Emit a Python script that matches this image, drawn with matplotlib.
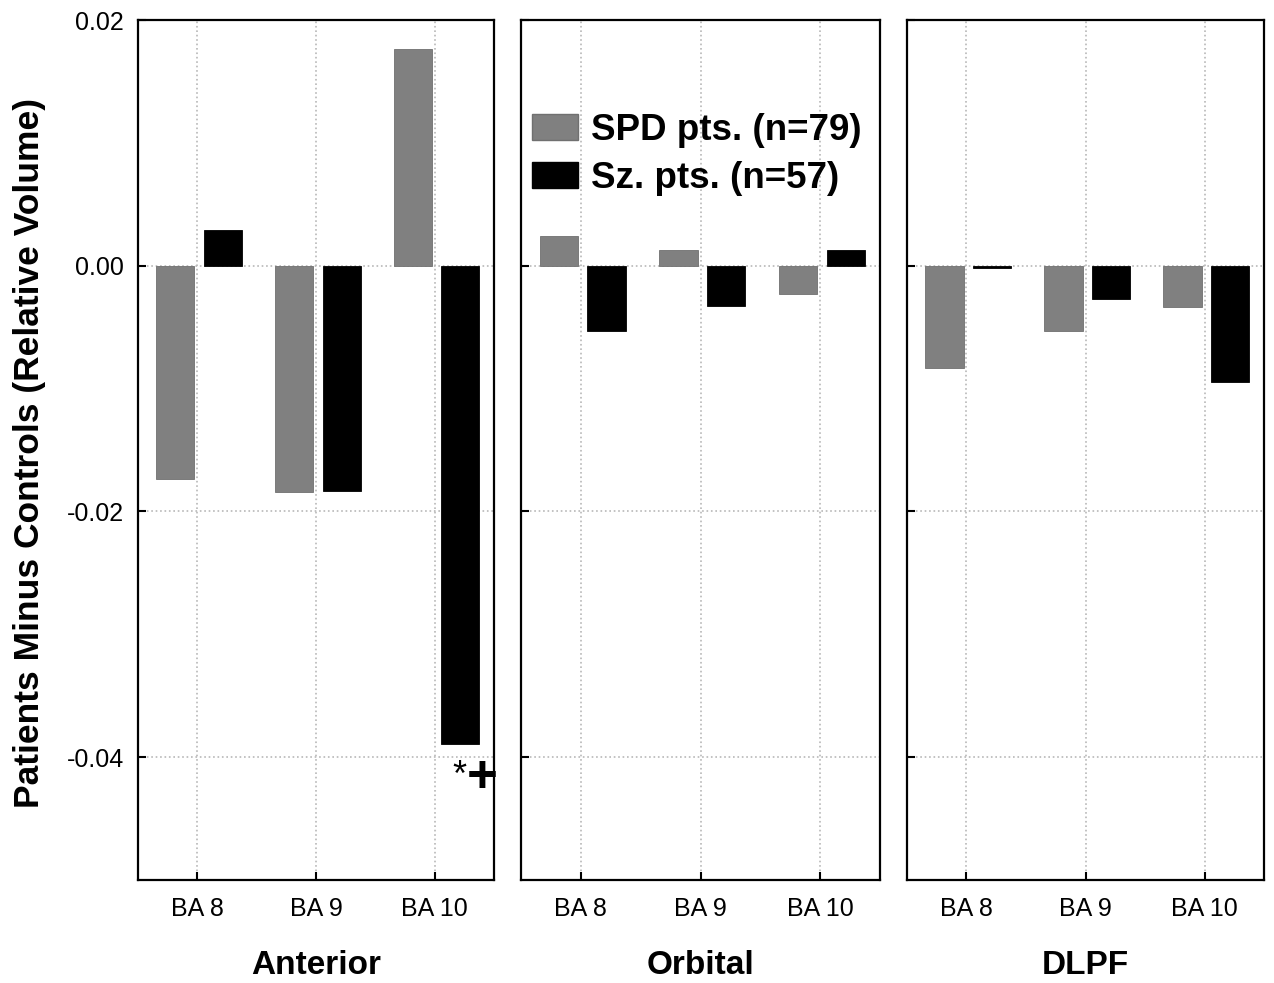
import matplotlib
matplotlib.use("Agg")
import matplotlib.pyplot as plt
from matplotlib.patches import Patch

plt.rcParams['font.family'] = ['Liberation Sans', 'DejaVu Sans']
plt.rcParams['axes.unicode_minus'] = False

# data
regions = ["Anterior", "Orbital", "DLPF"]
areas = ["BA 8", "BA 9", "BA 10"]
spd_vals = [[-0.0174, -0.0184, 0.0176],
            [0.0024, 0.0013, -0.0023],
            [-0.0083, -0.0053, -0.0034]]
sz_vals = [[0.0029, -0.0183, -0.0389],
           [-0.0053, -0.0033, 0.0013],
           [-0.0002, -0.0027, -0.0095]]
yticks = [0.02, 0.0, -0.02, -0.04]

fig = plt.figure(figsize=(12.74, 9.83), dpi=100)
W, H = 1274, 983
lefts = [138, 521, 907]
widths = [356, 359, 357]
top, bottom = 20, 880

axes = []
for i, reg in enumerate(regions):
    ax = fig.add_axes([lefts[i] / W, (H - bottom) / H, widths[i] / W, (bottom - top) / H])
    axes.append(ax)
    xs = range(len(areas))
    ax.bar([x - 0.185 for x in xs], spd_vals[i], width=0.32, color='#808080',
           edgecolor='#707070', linewidth=0.6, zorder=2)
    ax.bar([x + 0.215 for x in xs], sz_vals[i], width=0.32, color='black',
           edgecolor='black', linewidth=0.6, zorder=2)
    ax.set_xlim(-0.5, 2.5)
    ax.set_ylim(-0.05, 0.02)
    ax.set_xticks(list(xs))
    ax.set_xticklabels(areas)
    ax.set_yticks(yticks)
    ax.grid(True, linestyle=':', color='#b8b8b8', linewidth=1.2, zorder=0)
    ax.set_axisbelow(True)
    ax.tick_params(direction='in', length=6, width=1.5, labelsize=18)
    ax.tick_params(axis='x', pad=12)
    ax.tick_params(axis='y', pad=10)
    for s in ax.spines.values():
        s.set_linewidth(1.6)
    if i == 0:
        ax.set_yticklabels(["%.2f" % v for v in yticks])
    else:
        ax.set_yticklabels([])
    ax.text(0.5, -0.099, reg, transform=ax.transAxes, ha='center', va='center',
            fontsize=24, fontweight='bold')

# significance marks on BA 10, Sz
axes[0].text(2.205, -0.0416, "*", ha='center', va='center', fontsize=26)
axes[0].text(2.40, -0.0417, "+", ha='center', va='center', fontsize=38, fontweight='bold')

handles = [Patch(facecolor='#808080', edgecolor='#707070'),
           Patch(facecolor='black', edgecolor='black')]
axes[1].legend(handles, ["SPD pts. (n=79)", "Sz. pts. (n=57)"], loc='upper left',
               bbox_to_anchor=(0.0, 0.905), frameon=False, borderaxespad=0,
               borderpad=0.3, handlelength=1.25, handleheight=0.72, handletextpad=0.35,
               labelspacing=0.35, prop={'size': 26.5, 'weight': 'bold'})

fig.text(30 / W, (H - 453) / H, "Patients Minus Controls (Relative Volume)", rotation=90,
         ha='center', va='center', fontsize=25.5, fontweight='bold')

fig.savefig("out.png", dpi=100)
